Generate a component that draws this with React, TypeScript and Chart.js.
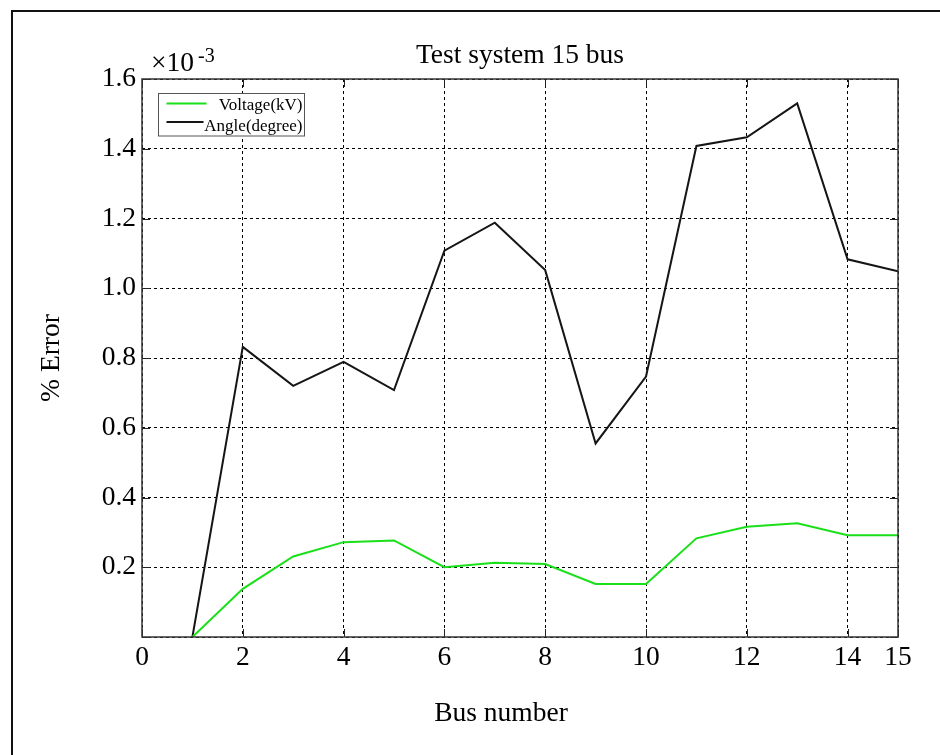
import React, { useEffect, useRef } from 'react';
import { Chart, registerables } from 'chart.js';

Chart.register(...registerables);

const busNumbers = [1, 2, 3, 4, 5, 6, 7, 8, 9, 10, 11, 12, 13, 14, 15];
const voltageError = [0, 0.138, 0.231, 0.272, 0.277, 0.2, 0.213, 0.209, 0.152, 0.152, 0.283, 0.316, 0.326, 0.292, 0.292];
const angleError = [0, 0.832, 0.72, 0.789, 0.708, 1.108, 1.188, 1.052, 0.555, 0.747, 1.408, 1.433, 1.53, 1.083, 1.049];
const xTickValues = [0, 2, 4, 6, 8, 10, 12, 14, 15];
const yTickValues = [0, 0.2, 0.4, 0.6, 0.8, 1.0, 1.2, 1.4, 1.6];
const seriesLabels = ['Voltage(kV)', 'Angle(degree)'];
const seriesColors = ['#19e019', '#151515'];
const titleText = 'Test system 15 bus';
const xTitle = 'Bus number';
const yTitle = '% Error';
const exponentBase = '×10';
const exponentPower = '-3';

const SERIF = '"Liberation Serif", "Times New Roman", serif';

export default function App() {
  const ref = useRef<HTMLCanvasElement>(null);

  useEffect(() => {
    const canvas = ref.current;
    if (!canvas) return;

    const framePlugin = {
      id: 'matlabFrame',
      beforeDraw(chart: any) {
        const ctx = chart.ctx;
        ctx.save();
        ctx.fillStyle = '#ffffff';
        ctx.fillRect(0, 0, chart.width, chart.height);
        ctx.fillStyle = '#111111';
        ctx.fillRect(11, 10, chart.width - 11, 2);
        ctx.fillRect(11, 10, 2, chart.height - 10);
        ctx.restore();
      },
      afterDraw(chart: any) {
        const { ctx, chartArea: a, scales } = chart;
        ctx.save();
        // inward tick marks
        const tl = 8;
        ctx.strokeStyle = '#222222';
        ctx.lineWidth = 1;
        ctx.setLineDash([]);
        ctx.beginPath();
        scales.x.ticks.forEach((t: any) => {
          const px = Math.round(scales.x.getPixelForValue(t.value)) + 0.5;
          ctx.moveTo(px, a.bottom);
          ctx.lineTo(px, a.bottom - tl);
          ctx.moveTo(px, a.top);
          ctx.lineTo(px, a.top + tl);
        });
        scales.y.ticks.forEach((t: any) => {
          const py = Math.round(scales.y.getPixelForValue(t.value)) + 0.5;
          ctx.moveTo(a.left, py);
          ctx.lineTo(a.left + tl, py);
          ctx.moveTo(a.right, py);
          ctx.lineTo(a.right - tl, py);
        });
        ctx.stroke();
        // axes box
        ctx.strokeStyle = '#333333';
        ctx.lineWidth = 1.5;
        ctx.strokeRect(a.left, a.top, a.right - a.left, a.bottom - a.top);
        // exponent label
        ctx.fillStyle = '#000000';
        ctx.textBaseline = 'alphabetic';
        ctx.textAlign = 'left';
        ctx.font = `27.5px ${SERIF}`;
        const ex = a.left + 9;
        ctx.fillText(exponentBase, ex, a.top - 8.5);
        const w = ctx.measureText(exponentBase).width;
        ctx.font = `20px ${SERIF}`;
        ctx.fillText(exponentPower, ex + w + 4, a.top - 17.5);
        // x axis title (slightly left of centre, as in the source figure)
        ctx.font = `27.5px ${SERIF}`;
        ctx.textAlign = 'center';
        ctx.textBaseline = 'middle';
        ctx.fillText(xTitle, (a.left + a.right) / 2 - 19, a.bottom + 76.5);
        // legend
        const lx = a.left + 16.5;
        const ly = a.top + 14.5;
        const lw = 146;
        const lh = 42.5;
        ctx.fillStyle = '#ffffff';
        ctx.fillRect(lx, ly, lw, lh);
        ctx.strokeStyle = '#555555';
        ctx.lineWidth = 1;
        ctx.strokeRect(lx, ly, lw, lh);
        const rows = [
          { lineY: ly + 10, textY: ly + 12.5, lineEnd: lx + 48 },
          { lineY: ly + 28.5, textY: ly + 33, lineEnd: lx + 45 },
        ];
        chart.data.datasets.forEach((ds: any, i: number) => {
          const r = rows[i];
          ctx.strokeStyle = ds.borderColor;
          ctx.lineWidth = 2;
          ctx.beginPath();
          ctx.moveTo(lx + 8, r.lineY);
          ctx.lineTo(r.lineEnd, r.lineY);
          ctx.stroke();
          ctx.fillStyle = '#000000';
          ctx.font = `17px ${SERIF}`;
          ctx.textAlign = 'right';
          ctx.textBaseline = 'middle';
          ctx.fillText(ds.label, lx + lw - 2, r.textY);
        });
        ctx.restore();
      },
    };

    const tickFont = { family: SERIF, size: 27.5, weight: 'normal' as const };

    const chart = new Chart(canvas, {
      type: 'line',
      data: {
        datasets: [
          {
            label: seriesLabels[0],
            data: busNumbers.map((b, i) => ({ x: b, y: voltageError[i] })),
            borderColor: seriesColors[0],
            backgroundColor: seriesColors[0],
            borderWidth: 2,
            pointRadius: 0,
            tension: 0,
            fill: false,
          },
          {
            label: seriesLabels[1],
            data: busNumbers.map((b, i) => ({ x: b, y: angleError[i] })),
            borderColor: seriesColors[1],
            backgroundColor: seriesColors[1],
            borderWidth: 2,
            pointRadius: 0,
            tension: 0,
            fill: false,
          },
        ],
      },
      options: {
        responsive: false,
        animation: false,
        devicePixelRatio: 1,
        layout: { padding: { left: 0, top: 0, right: 42, bottom: 0 } },
        plugins: {
          legend: { display: false },
          tooltip: { enabled: false },
          title: {
            display: true,
            text: titleText,
            color: '#000000',
            font: { family: SERIF, size: 27.5, weight: 'normal' },
            padding: { top: 39.5, bottom: 6.5 },
            fullSize: false,
          },
        },
        scales: {
          x: {
            type: 'linear',
            min: 0,
            max: 15,
            afterBuildTicks: (s: any) => {
              s.ticks = xTickValues.map((v) => ({ value: v }));
            },
            afterFit: (s: any) => {
              s.height = 118;
              s.paddingLeft = 0;
              s.paddingRight = 0;
            },
            ticks: {
              autoSkip: false,
              maxRotation: 0,
              padding: 4,
              color: '#000000',
              font: tickFont,
              callback: (v: any) => String(v),
            },
            grid: { color: '#000000', lineWidth: 1, drawTicks: false },
            border: { display: false, dash: [3, 3] },
            title: { display: false },
          },
          y: {
            type: 'linear',
            min: 0,
            max: 1.6,
            afterBuildTicks: (s: any) => {
              s.ticks = yTickValues.map((v) => ({ value: v }));
            },
            afterFit: (s: any) => {
              s.width = 142;
            },
            ticks: {
              padding: 6,
              color: '#000000',
              font: tickFont,
              callback: (v: any) => (Number(v) === 0 ? '' : Number(v).toFixed(1)),
            },
            grid: { color: '#000000', lineWidth: 1, drawTicks: false },
            border: { display: false, dash: [3, 3] },
            title: {
              display: true,
              text: yTitle,
              color: '#000000',
              font: tickFont,
              padding: { top: 35.5, bottom: 0 },
            },
          },
        },
      },
      plugins: [framePlugin],
    } as any);

    return () => chart.destroy();
  }, []);

  return (
    <div style={{ position: 'fixed', left: 0, top: 0, width: 940, height: 755, background: '#ffffff' }}>
      <canvas ref={ref} width={940} height={755} style={{ display: 'block' }} />
    </div>
  );
}
